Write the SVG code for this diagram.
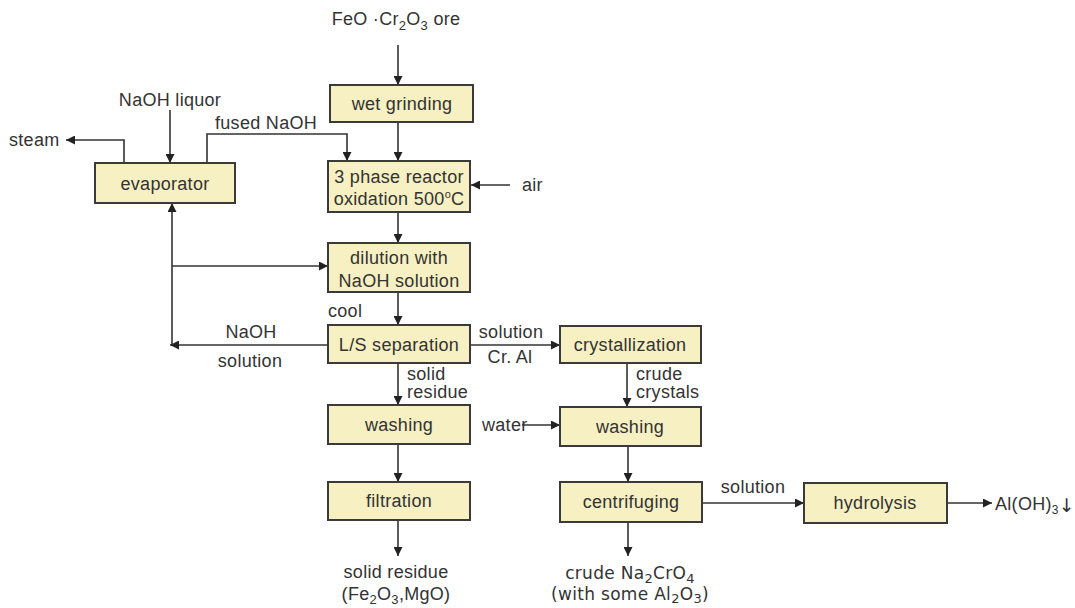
<svg xmlns="http://www.w3.org/2000/svg" width="1075" height="608" viewBox="0 0 1075 608">
<style>
.box{fill:#f6f0c2;stroke:#3a3a3a;stroke-width:2}
.t{font-family:"Liberation Sans",Arial,sans-serif;font-size:18px;letter-spacing:0.3px;fill:#333}
.w{font-family:"DejaVu Sans","Liberation Sans",sans-serif;font-size:17px;letter-spacing:0.3px;fill:#333}
.m{text-anchor:middle}
.c{fill:none;stroke:#333;stroke-width:1.6}
</style>
<defs>
<marker id="ah" viewBox="0 0 10 10" refX="10" refY="5" markerWidth="9" markerHeight="9" markerUnits="userSpaceOnUse" orient="auto">
<path d="M0,0 L10,5 L0,10 z" fill="#222"/>
</marker>
</defs>
<rect width="1075" height="608" fill="#fff"/>
<g id="connectors">
<path class="c" d="M398,45 V85" marker-end="url(#ah)"/>
<path class="c" d="M398,122 V161" marker-end="url(#ah)"/>
<path class="c" d="M170,110 V163" marker-end="url(#ah)"/>
<path class="c" d="M124,163 V140 H66" marker-end="url(#ah)"/>
<path class="c" d="M207,163 V134 H347 V161" marker-end="url(#ah)"/>
<path class="c" d="M510,185 H471" marker-end="url(#ah)"/>
<path class="c" d="M398,212 V243" marker-end="url(#ah)"/>
<path class="c" d="M398,292 V325" marker-end="url(#ah)"/>
<path class="c" d="M328,345 H170" marker-end="url(#ah)"/>
<path class="c" d="M172,345 V203" marker-end="url(#ah)"/>
<path class="c" d="M172,266 H328" marker-end="url(#ah)"/>
<path class="c" d="M470,345 H560" marker-end="url(#ah)"/>
<path class="c" d="M398,363 V405" marker-end="url(#ah)"/>
<path class="c" d="M627,363 V407" marker-end="url(#ah)"/>
<path class="c" d="M522,425 H560" marker-end="url(#ah)"/>
<path class="c" d="M398,444 V482" marker-end="url(#ah)"/>
<path class="c" d="M398,520 V556" marker-end="url(#ah)"/>
<path class="c" d="M628,446 V482" marker-end="url(#ah)"/>
<path class="c" d="M628,522 V556" marker-end="url(#ah)"/>
<path class="c" d="M702,503 H804" marker-end="url(#ah)"/>
<path class="c" d="M947,503 H992" marker-end="url(#ah)"/>
</g>
<g id="labels">
<text class="t m" x="396" y="25">FeO ·Cr<tspan font-size="13" dy="5">2</tspan><tspan dy="-5">O</tspan><tspan font-size="13" dy="5">3</tspan><tspan dy="-5"> ore</tspan></text>
<text class="t m" x="170" y="106">NaOH liquor</text>
<text class="t" x="9" y="146">steam</text>
<text class="t" x="215" y="129">fused NaOH</text>
<text class="t" x="522" y="191">air</text>
<text class="t" x="328" y="317">cool</text>
<text class="t m" x="251" y="338">NaOH</text>
<text class="t m" x="250" y="367">solution</text>
<text class="t m" x="511" y="338">solution</text>
<text class="t m" x="510" y="363">Cr. Al</text>
<text class="t" x="407" y="380" font-size="15">solid</text>
<text class="t" x="407" y="398" font-size="15">residue</text>
<text class="t" x="636" y="380" font-size="15">crude</text>
<text class="t" x="636" y="398" font-size="15">crystals</text>
<text class="t" x="482" y="431">water</text>
<text class="t m" x="753" y="493">solution</text>
<text class="t" x="995" y="510" font-size="17" letter-spacing="0">Al(OH)<tspan font-size="12" dy="4">3</tspan><tspan dy="-2" font-size="19" font-family="'DejaVu Sans',sans-serif">↓</tspan></text>
<text class="t m" x="396" y="578">solid residue</text>
<text class="t m" x="396" y="600">(Fe<tspan font-size="13" dy="4">2</tspan><tspan dy="-4">O</tspan><tspan font-size="13" dy="4">3</tspan><tspan dy="-4">,MgO)</tspan></text>
<text class="w m" x="630" y="579">crude Na<tspan font-size="13" dy="4">2</tspan><tspan dy="-4">CrO</tspan><tspan font-size="13" dy="4">4</tspan></text>
<text class="w m" x="630" y="600">(with some Al<tspan font-size="13" dy="3">2</tspan><tspan dy="-3">O</tspan><tspan font-size="13" dy="3">3</tspan><tspan dy="-3">)</tspan></text>
</g>
<g id="wet_grinding"><rect class="box" x="330" y="85" width="143" height="37"/><text class="t m" x="402" y="110">wet grinding</text></g>
<g id="evaporator"><rect class="box" x="95" y="163" width="140" height="40"/><text class="t m" x="165" y="190">evaporator</text></g>
<g id="reactor"><rect class="box" x="328" y="161" width="142" height="51"/><text class="t m" x="399" y="183">3 phase reactor</text><text class="t m" x="399" y="205">oxidation 500<tspan font-size="11" dy="-7">o</tspan><tspan dy="7">C</tspan></text></g>
<g id="dilution"><rect class="box" x="328" y="243" width="142" height="49"/><text class="t m" x="399" y="264">dilution with</text><text class="t m" x="399" y="287">NaOH solution</text></g>
<g id="ls_separation"><rect class="box" x="328" y="325" width="142" height="38"/><text class="t m" x="399" y="351">L/S separation</text></g>
<g id="crystallization"><rect class="box" x="560" y="326" width="141" height="37"/><text class="t m" x="630" y="351">crystallization</text></g>
<g id="washing_left"><rect class="box" x="328" y="405" width="142" height="39"/><text class="t m" x="399" y="431">washing</text></g>
<g id="washing_right"><rect class="box" x="560" y="407" width="141" height="39"/><text class="t m" x="630" y="433">washing</text></g>
<g id="filtration"><rect class="box" x="328" y="482" width="142" height="38"/><text class="t m" x="399" y="507">filtration</text></g>
<g id="centrifuging"><rect class="box" x="560" y="482" width="142" height="40"/><text class="t m" x="631" y="508">centrifuging</text></g>
<g id="hydrolysis"><rect class="box" x="804" y="483" width="143" height="40"/><text class="t m" x="875" y="509">hydrolysis</text></g>
</svg>
